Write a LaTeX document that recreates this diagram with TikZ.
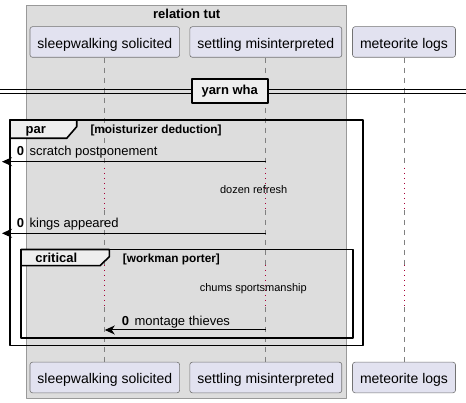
\documentclass[tikz,border=0pt]{standalone}
\usepackage{fontspec}
\setmainfont{Liberation Sans}
\usetikzlibrary{arrows.meta}
\definecolor{partfill}{HTML}{E2E2F0}
\definecolor{boxfill}{HTML}{DDDDDD}
\definecolor{tabfill}{HTML}{EEEEEE}
\definecolor{delayred}{HTML}{A80036}
\begin{document}
\begin{tikzpicture}[>={Stealth[length=10pt,width=9pt,inset=3pt]}, line join=round, x=1pt, y=-1pt,
	part/.style={draw=gray!90!black, fill=partfill, rounded corners=2.5pt, line width=.6pt, minimum height=30.6pt, inner xsep=7.5pt, text height=13pt, text depth=.5pt, font=\fontsize{14}{16}\selectfont},
	life/.style={draw=gray, dash pattern=on 5pt off 5pt, line width=.8pt},
	delay/.style={draw=delayred, dash pattern=on 1pt off 4pt, line width=.8pt},
	msg/.style={->, line width=1pt},
	frm/.style={line width=1.6pt},
	tab/.style={fill=tabfill, line width=1.6pt},
	bold/.style={anchor=base, inner sep=0pt, font=\bfseries\fontsize{13}{15}\selectfont},
	lbl/.style={anchor=base west, inner sep=0pt, font=\fontsize{13}{15}\selectfont},
	cond/.style={anchor=base west, inner sep=0pt, font=\bfseries\fontsize{11.8}{13}\selectfont},
	note/.style={anchor=base, inner sep=0pt, font=\fontsize{11}{13}\selectfont}]
	\useasboundingbox (0,0) rectangle (466,403);
	% box
	\filldraw[fill=boxfill, draw=gray!80, line width=1pt] (26.7,6) rectangle (346.7,398.3);
	\node[bold] (grp) at (186.7,18.3) {relation tut};
	% participants
	\node[part] (sw) at (104.8,42) {sleepwalking solicited};
	\node[part] (st) at (265.8,42) {settling misinterpreted};
	\node[part] (ml) at (404,42) {meteorite logs};
	\node[part] (sw2) at (104.8,377.5) {sleepwalking solicited};
	\node[part] (st2) at (265.8,377.5) {settling misinterpreted};
	\node[part] (ml2) at (404,377.5) {meteorite logs};
	% lifelines
	\coordinate (d1a) at (0,168);
	\coordinate (d1b) at (0,210);
	\coordinate (d2a) at (0,265);
	\coordinate (d2b) at (0,307);
	\foreach \p in {sw,st,ml}{
		\draw[life] (\p.south) -- (\p.south |- d1a);
		\draw[delay] (\p.south |- d1a) -- (\p.south |- d1b);
		\draw[life] (\p.south |- d1b) -- (\p.south |- d2a);
		\draw[delay] (\p.south |- d2a) -- (\p.south |- d2b);
		\draw[life] (\p.south |- d2b) -- (\p2.north);
	}
	% divider
	\draw[line width=1pt] (0,89.7) -- (466,89.7) (0,93.3) -- (466,93.3);
	\node[draw, line width=2pt, fill=tabfill, minimum width=76pt, minimum height=23.7pt, text height=9pt, text depth=1.4pt, font=\bfseries\fontsize{13}{15}\selectfont] (div) at (229.7,91.2) {yarn wha};
	% par
	\draw[frm] (10,120) rectangle (362.7,345.7);
	\filldraw[tab] (10,120) -- (76.7,120) -- (76.7,126.7) -- (66.7,138.3) -- (10,138.3) -- cycle;
	\node[bold] (par) at (35.7,134) {par};
	\node[cond] (c1) at (90.3,133.3) {[moisturizer deduction]};
	\coordinate (e1) at (2,161.7);
	\draw[msg] (st.south |- e1) -- (e1);
	\node[lbl] (t1) at (16.7,156) {\textbf{0}\hspace{5.5pt}scratch postponement};
	\node[note] (n1) at (253.7,193.3) {dozen refresh};
	\coordinate (e2) at (2,233.3);
	\draw[msg] (st.south |- e2) -- (e2);
	\node[lbl] (t2) at (16.7,227.3) {\textbf{0}\hspace{5.5pt}kings appeared};
	% critical
	\draw[frm] (21,249.5) rectangle (352.7,338);
	\filldraw[tab] (21,249.5) -- (109.3,249.5) -- (109.3,256.7) -- (100,265.7) -- (21,265.7) -- cycle;
	\node[bold] (crit) at (56.3,262.7) {critical};
	\node[cond] (c2) at (122.7,262.3) {[workman porter]};
	\node[note] (n2) at (253.3,291.5) {chums sportsmanship};
	\draw[msg] (st.south |- 0,330) -- (sw.south |- 0,330);
	\node[lbl] (t3) at (121.7,325.7) {\textbf{0}\hspace{5.5pt}montage thieves};
\end{tikzpicture}
\end{document}
